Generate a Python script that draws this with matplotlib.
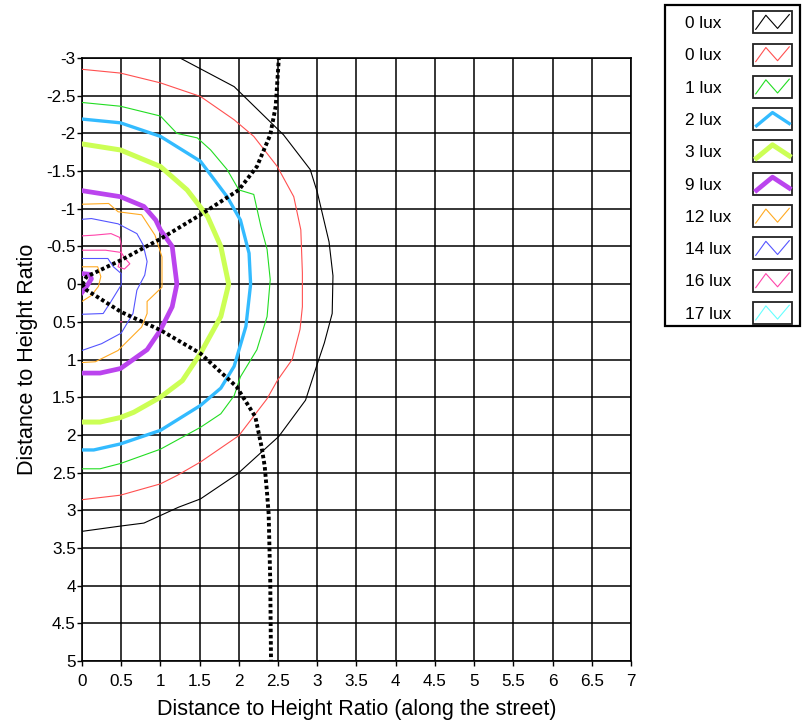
import numpy as np
import matplotlib
matplotlib.use('Agg')
import matplotlib.pyplot as plt
from matplotlib.lines import Line2D
from matplotlib.patches import Rectangle
from matplotlib.legend_handler import HandlerBase
from matplotlib.ticker import FuncFormatter

plt.rcParams['font.family'] = ['Liberation Sans', 'DejaVu Sans']
plt.rcParams['axes.unicode_minus'] = False

nan = np.nan

# ---- data (distance-to-height ratio: x along street, y across) ----
labels = ['0 lux', '0 lux', '1 lux', '2 lux', '3 lux', '9 lux',
          '12 lux', '14 lux', '16 lux', '17 lux']
colors = ['#000000', '#ff5050', '#22dd22', '#33bbff', '#ccff55', '#bb44ee',
          '#ffaa22', '#5555ff', '#ff44aa', '#66ffff']

lux0a_x = [1.25, 1.94, 2.57, 2.91, 3.0, 3.15, 3.2, 3.19, 3.09, 3.0, 2.85, 2.51,
           1.98, 1.51, 1.23, 1.0, 0.79, 0.49, 0.0]
lux0a_y = [-3.0, -2.62, -1.98, -1.52, -1.22, -0.56, -0.11, 0.39, 0.78, 1.06,
           1.54, 2.02, 2.52, 2.85, 2.96, 3.07, 3.17, 3.21, 3.28]

lux0b_x = [0.0, 0.49, 1.0, 1.51, 1.94, 2.19, 2.49, 2.7, 2.79, 2.81, 2.81, 2.78,
           2.68, 2.49, 2.36, 2.0, 1.51, 1.21, 1.0, 0.49, 0.0]
lux0b_y = [-2.85, -2.8, -2.67, -2.49, -2.18, -1.96, -1.56, -1.16, -0.72, -0.15,
           0.3, 0.6, 1.0, 1.28, 1.52, 2.01, 2.36, 2.54, 2.65, 2.8, 2.86]

lux1_x = [0.0, 0.49, 1.0, 1.21, 1.47, 1.64, 1.85, 2.0, 2.19, 2.28, 2.36, 2.4,
          2.36, 2.23, 2.02, 1.94, 1.77, 1.51, 1.0, 0.49, 0.23, 0.0]
lux1_y = [-2.41, -2.36, -2.23, -2.0, -1.94, -1.78, -1.52, -1.25, -1.19, -0.77,
          -0.46, -0.06, 0.43, 0.87, 1.23, 1.48, 1.72, 1.9, 2.19, 2.38, 2.45, 2.45]

lux2_x = [0.0, 0.49, 1.0, 1.51, 1.85, 2.02, 2.13, 2.15, 2.09, 1.94, 1.77, 1.51,
          1.0, 0.49, 0.15, 0.0]
lux2_y = [-2.19, -2.14, -1.96, -1.63, -1.16, -0.85, -0.41, 0.0, 0.56, 1.09,
          1.38, 1.61, 1.94, 2.12, 2.2, 2.2]

lux3_x = [0.0, 0.49, 1.0, 1.34, 1.6, 1.77, 1.87, 1.77, 1.51, 1.28, 1.0, 0.66,
          0.49, 0.23, 0.0]
lux3_y = [-1.86, -1.78, -1.56, -1.25, -0.9, -0.5, 0.0, 0.43, 0.92, 1.28, 1.5,
          1.7, 1.77, 1.83, 1.83]

lux9_x = [0.0, 0.49, 0.79, 0.94, 1.0, 1.15, 1.21, 1.15, 1.0, 0.83, 0.49, 0.23,
          0.0, nan, 0.0, 0.1, 0.12, 0.06, 0.0]
lux9_y = [-1.24, -1.16, -1.03, -0.85, -0.72, -0.5, 0.0, 0.3, 0.61, 0.87, 1.12,
          1.18, 1.18, nan, -0.14, -0.13, -0.07, 0.03, 0.11]

lux12_x = [0.0, 0.34, 0.46, 0.76, 0.93, 1.02, 1.02, 0.83, 0.83, 0.76, 0.46,
           0.17, 0.0, nan, 0.0, 0.2, 0.24, 0.21, 0.12, 0.0]
lux12_y = [-1.06, -1.07, -0.96, -0.92, -0.65, -0.36, 0.04, 0.23, 0.39, 0.57,
           0.88, 1.03, 1.04, nan, -0.23, -0.23, -0.1, 0.03, 0.15, 0.23]

lux14_x = [0.0, 0.12, 0.46, 0.7, 0.78, 0.83, 0.8, 0.7, 0.65, 0.5, 0.25, 0.0,
           nan, 0.0, 0.33, 0.4, 0.5, 0.5, 0.37, 0.27, 0.0]
lux14_y = [-0.86, -0.87, -0.8, -0.67, -0.52, -0.3, -0.12, 0.08, 0.39, 0.65,
           0.79, 0.88, nan, -0.34, -0.34, -0.23, -0.14, 0.01, 0.23, 0.39, 0.4]

lux16_x = [0.0, 0.16, 0.37, 0.48, 0.5, 0.5, 0.46, 0.54, 0.61, 0.55, 0.5, 0.3,
           0.0, nan, 0.49, 0.51]
lux16_y = [-0.64, -0.65, -0.67, -0.62, -0.52, -0.35, -0.23, -0.2, -0.27, -0.34,
           -0.42, -0.45, -0.45, nan, 0.5, 0.5]

lux17_x = []
lux17_y = []

path_up_x = [0.0, 0.06, 0.5, 1.0, 1.51, 2.0, 2.23, 2.4, 2.47, 2.51]
path_up_y = [0.0, -0.1, -0.32, -0.6, -0.92, -1.25, -1.56, -1.98, -2.36, -3.0]
path_dn_x = [0.0, 0.06, 0.5, 1.0, 1.51, 1.97, 2.21, 2.29, 2.33, 2.36, 2.38,
             2.4, 2.41]
path_dn_y = [0.0, 0.08, 0.37, 0.61, 0.92, 1.36, 1.76, 2.16, 2.42, 2.78, 3.05,
             3.93, 5.0]

x_ticks = np.arange(0, 7.01, 0.5)
y_ticks = np.arange(-3, 5.01, 0.5)

series = [(lux0a_x, lux0a_y), (lux0b_x, lux0b_y), (lux1_x, lux1_y),
          (lux2_x, lux2_y), (lux3_x, lux3_y), (lux9_x, lux9_y),
          (lux12_x, lux12_y), (lux14_x, lux14_y), (lux16_x, lux16_y),
          (lux17_x, lux17_y)]
widths = [0.8, 0.8, 0.8, 2.4, 3.6, 3.4, 0.8, 0.8, 0.8, 0.8]

# ---- figure ----
W, H = 803, 722
fig = plt.figure(figsize=(W / 100, H / 100), dpi=100)
ax = fig.add_axes([82 / W, 1 - 661 / H, 549 / W, 603 / H])

handles = []
for (xs, ys), c, lw, lab in zip(series, colors, widths, labels):
    ln, = ax.plot(xs, ys, color=c, lw=lw, label=lab, zorder=3,
                  solid_joinstyle='round')
    handles.append(ln)

for xs, ys in [(path_up_x, path_up_y), (path_dn_x, path_dn_y)]:
    ax.plot(xs, ys, color='black', lw=2.8, linestyle=(0, (0.9, 0.7)),
            dash_capstyle='butt', zorder=4)

ax.set_xlim(0, 7)
ax.set_ylim(5, -3)
ax.set_xticks(x_ticks)
ax.set_yticks(y_ticks)
fmt = FuncFormatter(lambda v, p: '{:g}'.format(round(v, 2)))
ax.xaxis.set_major_formatter(fmt)
ax.yaxis.set_major_formatter(fmt)
ax.grid(True, color='black', lw=1.1)
ax.set_axisbelow(True)
ax.tick_params(direction='out', length=3.5, width=1, labelsize=12.3,
               colors='black')
ax.tick_params(axis='x', pad=6)
ax.tick_params(axis='y', pad=1)
for s in ax.spines.values():
    s.set_linewidth(1.2)
    s.set_color('black')
ax.set_xlabel('Distance to Height Ratio (along the street)', fontsize=15.5,
              labelpad=7)
ax.set_ylabel('Distance to Height Ratio', fontsize=15.5, labelpad=6)


# ---- legend with framed zigzag swatches on the right ----
class SwatchHandler(HandlerBase):
    def __init__(self, xoff, w, h, **kw):
        super().__init__(**kw)
        self.xoff, self.w, self.h = xoff, w, h

    def create_artists(self, legend, orig_handle, xdescent, ydescent, width,
                       height, fontsize, trans):
        x0 = -xdescent + self.xoff
        y0 = -ydescent + (height - self.h) / 2
        rect = Rectangle((x0, y0), self.w, self.h, fill=False,
                         ec='#222222', lw=1.3, transform=trans)
        lw = orig_handle.get_linewidth()
        if lw > 1.5:
            fx = [0.09, 0.5, 0.93]
            fy = [0.2, 0.8, 0.3]
        else:
            fx = [0.07, 0.33, 0.63, 0.93]
            fy = [0.18, 0.82, 0.22, 0.85]
        line = Line2D([x0 + f * self.w for f in fx],
                      [y0 + f * self.h for f in fy],
                      color=orig_handle.get_color(), lw=lw, transform=trans)
        return [rect, line]


pt = 72 / 100  # px -> points
handler = SwatchHandler(68 * pt, 39 * pt, 22 * pt)
fs = 12.4
leg = fig.legend(handles=handles, labels=labels, loc='upper left',
                 bbox_to_anchor=(685 / W, 1 - 13 / H),
                 bbox_transform=fig.transFigure, frameon=False,
                 borderpad=0, borderaxespad=0, handlelength=0,
                 handletextpad=0, handleheight=22 * pt / fs,
                 labelspacing=0.80, fontsize=fs,
                 handler_map={Line2D: handler})

fig.patches.append(Rectangle((665 / W, 1 - 326 / H), 135 / W, 321 / H,
                             transform=fig.transFigure, fill=False,
                             ec='black', lw=1.6))

fig.savefig('out.png', dpi=100)
